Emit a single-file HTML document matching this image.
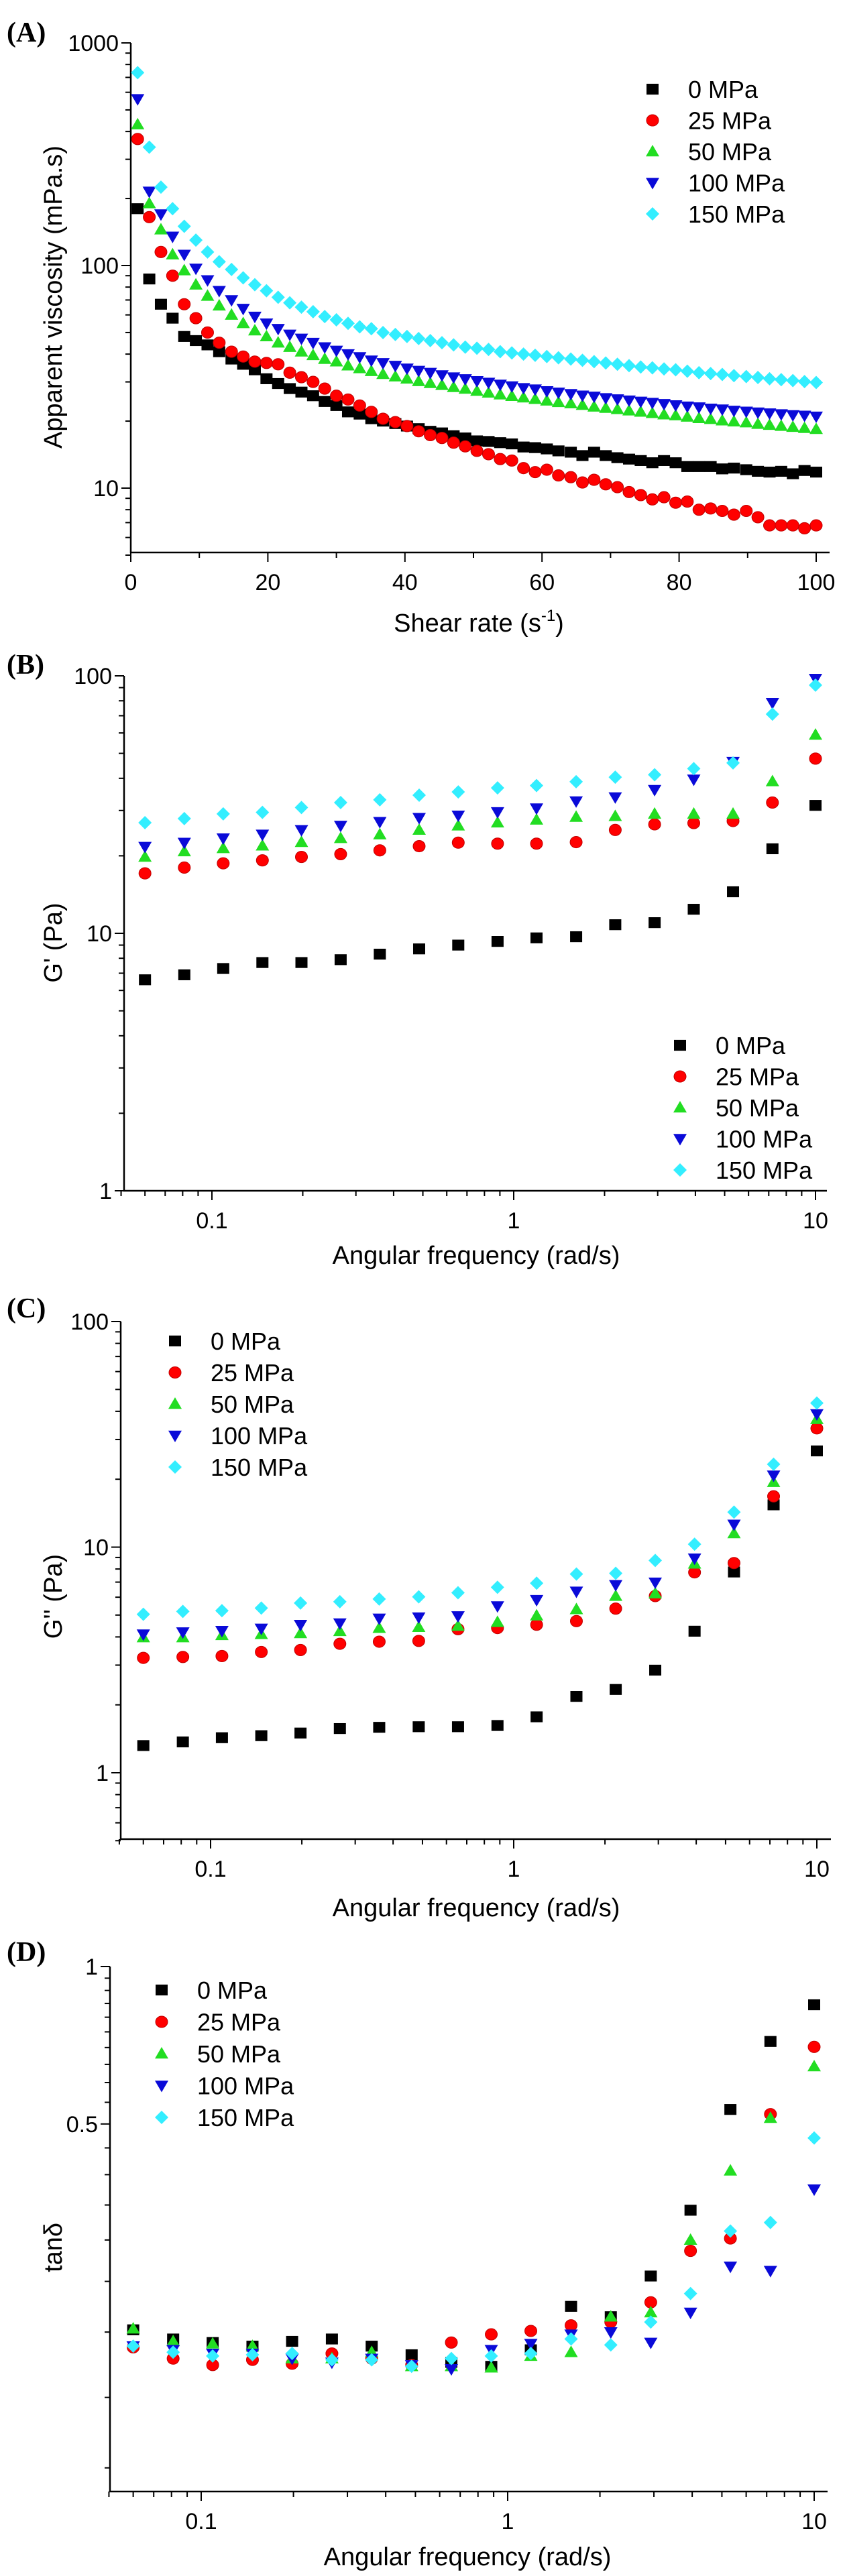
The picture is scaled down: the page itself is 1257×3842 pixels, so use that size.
<!DOCTYPE html>
<html><head><meta charset="utf-8"><style>
html,body{margin:0;padding:0;background:#fff}
svg{display:block}
text{font-family:"Liberation Sans",Arial,sans-serif;fill:#000}
.pl{font-family:"Liberation Serif","Times New Roman",serif;font-weight:bold;font-size:42px}
</style></head><body>
<svg id="fig" xmlns="http://www.w3.org/2000/svg" width="1257" height="3842" viewBox="0 0 1257 3842"></svg>
<script>
const seriesNames=["0 MPa","25 MPa","50 MPa","100 MPa","150 MPa"];
const colors=["#000000","#ff0000","#22dd22","#0a0ad8","#33eeff"];
const shapes=["square","circle","up","down","diamond"];
// Panel A
const shearRate=[1,2.7,4.4,6.1,7.8,9.5,11.2,12.9,14.7,16.4,18.1,19.8,21.5,23.2,24.9,26.6,28.3,30,31.7,33.4,35.1,36.8,38.6,40.3,42,43.7,45.4,47.1,48.8,50.5,52.2,53.9,55.6,57.3,59,60.7,62.4,64.2,65.9,67.6,69.3,71,72.7,74.4,76.1,77.8,79.5,81.2,82.9,84.6,86.3,88,89.8,91.5,93.2,94.9,96.6,98.3,100];
const viscA0=[180,87,67,58,48,46,44,41,38,36,34,31,29.5,28,27,26,24.5,23.5,22,21.5,20.5,20,19.5,19,18.5,18,17.7,17.2,16.8,16.3,16.2,16,15.8,15.3,15.2,15,14.7,14.5,14,14.5,14,13.7,13.5,13.3,13,13.3,13,12.5,12.5,12.5,12.2,12.3,12.1,11.9,11.8,11.9,11.6,12,11.8];
const viscA25=[370,165,115,90,67,58,50,45,41,39,37,36.5,36,33,31.5,30,28,26,25,23.5,22,20.5,19.8,19,18,17.3,16.8,16,15.4,14.7,14.2,13.5,13.3,12.3,11.8,12.1,11.4,11.2,10.6,10.9,10.4,10.1,9.6,9.3,8.9,9.1,8.6,8.7,8,8.1,7.9,7.6,7.9,7.4,6.8,6.8,6.8,6.6,6.8];
const viscA50=[430,190,145,112,95,82,73,66,60,55,51,48,45,43,41,39.5,38,37,35.5,34.5,33.5,32.5,31.7,31,30.2,29.6,29,28.4,27.9,27.3,26.8,26.3,25.9,25.5,25.1,24.7,24.3,24,23.6,23.2,22.9,22.6,22.3,22,21.7,21.4,21.2,20.9,20.6,20.4,20.1,19.9,19.7,19.4,19.2,19,18.8,18.6,18.4];
const viscA100=[560,215,170,135,112,97,86,77,70,64,59,55,52,49,47,45,43,41.5,40,38.8,37.5,36.5,35.5,34.5,33.7,33,32.2,31.5,30.9,30.3,29.8,29.2,28.7,28.2,27.8,27.3,26.9,26.5,26.1,25.8,25.4,25.1,24.8,24.5,24.2,23.9,23.6,23.3,23.1,22.8,22.6,22.3,22.1,21.9,21.7,21.5,21.3,21.2,21];
const viscA150=[735,340,225,180,150,130,115,104,96,88,82,77,72,68,65,62,59,57,55,53,52,50,49,48,47,46,45,44,43,42.5,42,41,40.5,40,39.5,39,38.5,38,37.5,37,36.5,36,35.5,35,34.7,34.3,34,33.5,33,32.7,32.4,32,31.7,31.4,31,30.7,30.4,30.1,29.8];
// Frequencies (B, C, D)
const freq=[0.06,0.081,0.109,0.147,0.198,0.267,0.36,0.486,0.655,0.884,1.19,1.61,2.17,2.93,3.95,5.33,7.2,10];
const gp0=[6.6,6.9,7.3,7.7,7.7,7.9,8.3,8.7,9.0,9.3,9.6,9.7,10.8,11,12.4,14.5,21.3,31.4];
const gp25=[17.1,18,18.7,19.2,19.8,20.3,21,21.8,22.5,22.3,22.3,22.6,25.2,26.5,26.8,27.3,32.2,47.7];
const gp50=[19.8,20.8,21.4,21.9,22.6,23.4,24.2,25.2,26.2,26.9,27.6,28.3,28.5,29.1,29.1,29.1,38.9,59];
const gp100=[21.7,22.5,23.4,24.2,25.2,26.2,27.1,28.1,28.7,29.6,30.6,32.6,33.8,36.1,39.6,46.4,78.6,97.5];
const gp150=[26.9,27.9,29.1,29.5,30.8,32.2,33,34.4,35.4,36.7,37.5,38.8,40.4,41.3,43.6,45.9,71,92];
const gpp0=[1.32,1.37,1.43,1.46,1.5,1.57,1.59,1.6,1.6,1.62,1.77,2.18,2.34,2.85,4.24,7.76,15.4,26.7];
const gpp25=[3.23,3.26,3.29,3.43,3.5,3.73,3.81,3.84,4.33,4.38,4.53,4.7,5.34,6.07,7.73,8.5,16.8,33.6];
const gpp50=[3.98,3.98,4.07,4.11,4.15,4.24,4.38,4.42,4.47,4.65,4.97,5.3,6.07,6.23,8.44,11.5,19.4,36.9];
const gpp100=[4.11,4.2,4.26,4.36,4.53,4.6,4.83,4.89,4.95,5.48,5.84,6.36,6.8,6.98,8.92,12.6,20.8,38.9];
const gpp150=[5.04,5.19,5.23,5.37,5.65,5.73,5.89,6.02,6.28,6.64,6.92,7.6,7.66,8.73,10.3,14.3,23.3,43.5];
const tan0=[0.202,0.194,0.191,0.188,0.192,0.194,0.188,0.181,0.175,0.172,0.185,0.224,0.214,0.256,0.342,0.533,0.719,0.845];
const tan25=[0.187,0.178,0.173,0.177,0.174,0.182,0.178,0.173,0.191,0.198,0.201,0.206,0.209,0.228,0.286,0.302,0.522,0.702];
const tan50=[0.203,0.192,0.19,0.188,0.178,0.178,0.183,0.172,0.172,0.171,0.18,0.183,0.214,0.218,0.3,0.407,0.513,0.644];
const tan100=[0.188,0.185,0.182,0.182,0.178,0.175,0.178,0.173,0.17,0.185,0.19,0.198,0.2,0.191,0.218,0.267,0.262,0.375];
const tan150=[0.188,0.183,0.18,0.181,0.182,0.177,0.177,0.172,0.178,0.18,0.182,0.194,0.189,0.209,0.237,0.312,0.324,0.47];
const xTicksA=[0,20,40,60,80,100];
const logXTickLabels=["0.1","1","10"];

const NS="http://www.w3.org/2000/svg";
const svg=document.getElementById('fig');
function el(tag,attrs,parent){const e=document.createElementNS(NS,tag);for(const k in attrs)e.setAttribute(k,attrs[k]);(parent||svg).appendChild(e);return e;}
function marker(g,shape,cx,cy,color){
  const s=9;let e;
  if(shape==="square"){e=el('rect',{x:cx-s,y:cy-s*0.9,width:2*s,height:1.8*s,fill:color},g);}
  else if(shape==="circle"){e=el('ellipse',{cx:cx,cy:cy,rx:s,ry:s*0.95,fill:color,stroke:'#c00000','stroke-width':1},g);}
  else if(shape==="up"){e=el('polygon',{points:`${cx},${cy-s-1} ${cx+s+1},${cy+s*0.8} ${cx-s-1},${cy+s*0.8}`,fill:color},g);}
  else if(shape==="down"){e=el('polygon',{points:`${cx},${cy+s+1} ${cx+s+1},${cy-s*0.8} ${cx-s-1},${cy-s*0.8}`,fill:color},g);}
  else {e=el('polygon',{points:`${cx},${cy-s-1} ${cx+s+1},${cy} ${cx},${cy+s+1} ${cx-s-1},${cy}`,fill:color},g);}
  
  
  return e;
}
function panel(cfg){
  const g=el('g',{});
  
  
  const lab=el('text',{x:10,y:cfg.labelY,class:'pl'},g);lab.textContent=cfg.label;
  
  // axes
  const ax=el('path',{d:`M${cfg.left},${cfg.top} L${cfg.left},${cfg.bottom} L${cfg.right},${cfg.bottom}`,fill:'none',stroke:'#000','stroke-width':2.5},g);
  
  // x ticks
  cfg.xMajor.forEach((v,i)=>{const x=cfg.xs(v);el('line',{x1:x,y1:cfg.bottom,x2:x,y2:cfg.bottom+14,stroke:'#000','stroke-width':2},g);
    const t=el('text',{x:x,y:cfg.bottom+56,'font-size':34,'text-anchor':'middle'},g);t.textContent=cfg.xLabels[i];
    });
  cfg.xMinor.forEach(v=>{const x=cfg.xs(v);el('line',{x1:x,y1:cfg.bottom,x2:x,y2:cfg.bottom+8,stroke:'#000','stroke-width':2},g);});
  cfg.yMajor.forEach((v,i)=>{const y=cfg.ys(v);el('line',{x1:cfg.left,y1:y,x2:cfg.left-14,y2:y,stroke:'#000','stroke-width':2},g);
    const t=el('text',{x:cfg.left-18,y:y+12,'font-size':34,'text-anchor':'end'},g);t.textContent=cfg.yLabels[i];
    });
  cfg.yMinor.forEach(v=>{const y=cfg.ys(v);el('line',{x1:cfg.left,y1:y,x2:cfg.left-8,y2:y,stroke:'#000','stroke-width':2},g);});
  const xt=el('text',{x:cfg.xTitleX,y:cfg.xTitleY,'font-size':38,'text-anchor':'middle'},g);
  
  if(cfg.sup){xt.textContent='Shear rate (s';const ts=el('tspan',{'font-size':24,dy:-16},xt);ts.textContent='-1';const t2=el('tspan',{dy:16},xt);t2.textContent=')';}
  else xt.textContent=cfg.xTitle;
  const yt=el('text',{x:0,y:0,'font-size':38,'text-anchor':'middle',transform:`translate(${cfg.yTitleX},${cfg.yTitleY}) rotate(-90)`},g);
  yt.textContent=cfg.yTitle;
  // series
  cfg.series.forEach((vals,si)=>{const sg=el('g',{},g);
    
    
    vals.forEach((v,i)=>marker(sg,shapes[si],cfg.xs(cfg.xData[i]),cfg.ys(v),colors[si]));});
  // legend
  const lg=el('g',{},g);
  seriesNames.forEach((n,i)=>{const y=cfg.legY+i*cfg.legDy;
    const e=el('g',{},lg);
    marker(e,shapes[i],cfg.legX,y,colors[i]);
    const t=el('text',{x:cfg.legX+53,y:y+13,'font-size':36},e);t.textContent=n;});
}
const L=Math.log10;
function logMinor(lo,hi){const r=[];for(let d=Math.floor(L(lo));d<Math.ceil(L(hi));d++){for(let m=2;m<=9;m++){const v=m*Math.pow(10,d);if(v>=lo-1e-9&&v<=hi+1e-9)r.push(v);}}return r;}
const freqMinor=logMinor(0.05,10.8);
panel({name:'panel-a-viscosity',label:'(A)',labelY:62,left:195,right:1237,top:64,bottom:824,
  xs:v=>195+v*10.22, ys:v=>64+(3-L(v))*332,
  xMajor:xTicksA,xLabels:xTicksA.map(String),xMinor:[10,30,50,70,90],
  yMajor:[10,100,1000],yLabels:["10","100","1000"],yMinor:logMinor(5,1000).filter(v=>![10,100,1000].includes(v)),
  xTitleX:714,xTitleY:942,sup:true,yTitle:'Apparent viscosity (mPa.s)',yTitleX:92,yTitleY:443,
  xData:shearRate,series:[viscA0,viscA25,viscA50,viscA100,viscA150],legX:973,legY:133,legDy:46.5});
panel({name:'panel-b-storage-modulus',label:'(B)',labelY:1005,left:185,right:1233,top:1008,bottom:1776,
  xs:v=>766+L(v)*450, ys:v=>1008+(2-L(v))*384,
  xMajor:[0.1,1,10],xLabels:logXTickLabels,xMinor:freqMinor,
  yMajor:[1,10,100],yLabels:["1","10","100"],yMinor:logMinor(1,100),
  xTitleX:710,xTitleY:1885,xTitle:'Angular frequency (rad/s)',yTitle:"G' (Pa)",yTitleX:92,yTitleY:1406,
  xData:freq,series:[gp0,gp25,gp50,gp100,gp150],legX:1014,legY:1559,legDy:46.5});
panel({name:'panel-c-loss-modulus',label:'(C)',labelY:1965,left:180,right:1239,top:1971,bottom:2743,
  xs:v=>766+L(v)*452, ys:v=>1971+(2-L(v))*336.5,
  xMajor:[0.1,1,10],xLabels:logXTickLabels,xMinor:freqMinor,
  yMajor:[1,10,100],yLabels:["1","10","100"],yMinor:logMinor(0.5,100),
  xTitleX:710,xTitleY:2858,xTitle:'Angular frequency (rad/s)',yTitle:"G'' (Pa)",yTitleX:92,yTitleY:2381,
  xData:freq,series:[gpp0,gpp25,gpp50,gpp100,gpp150],legX:261,legY:2000,legDy:47});
panel({name:'panel-d-tan-delta',label:'(D)',labelY:2925,left:164,right:1234,top:2933,bottom:3716,
  xs:v=>757+L(v)*457, ys:v=>2933+(-L(v))*780,
  xMajor:[0.1,1,10],xLabels:logXTickLabels,xMinor:freqMinor,
  yMajor:[1,0.5],yLabels:["1","0.5"],yMinor:[0.95,0.9,0.85,0.8,0.75,0.7,0.65,0.6,0.55,0.45,0.4,0.35,0.3,0.25,0.2,0.15,0.11],
  xTitleX:697,xTitleY:3826,xTitle:'Angular frequency (rad/s)',yTitle:'tanδ',yTitleX:92,yTitleY:3352,
  xData:freq,series:[tan0,tan25,tan50,tan100,tan150],legX:241,legY:2968,legDy:47.5});
</script>
</body></html>
